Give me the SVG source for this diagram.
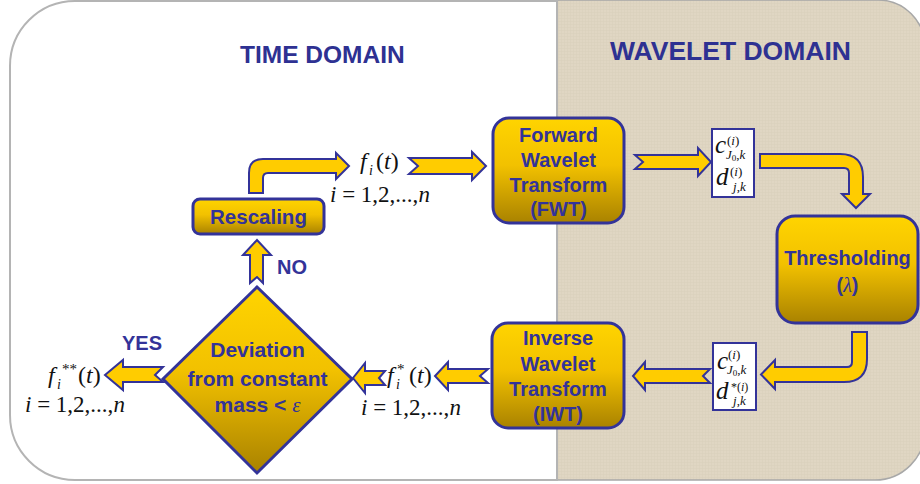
<svg xmlns="http://www.w3.org/2000/svg" width="920" height="484" viewBox="0 0 920 484">
<defs>
<linearGradient id="gold" x1="0" y1="0" x2="0" y2="1">
<stop offset="0" stop-color="#ffd400"/>
<stop offset="0.45" stop-color="#f2c100"/>
<stop offset="1" stop-color="#a98200"/>
</linearGradient>
<pattern id="linen" width="3" height="3" patternUnits="userSpaceOnUse">
<rect width="3" height="3" fill="#e0d6c3"/>
<path d="M0,0.5 H3 M0.5,0 V3" stroke="#cfc4ae" stroke-width="0.6" opacity="0.35"/>
</pattern>
<style>
.node{fill:url(#gold);stroke:#333399;stroke-width:3}
.arr{fill:#ffcc00;stroke:#333399;stroke-width:2;stroke-linejoin:miter}
.lbl{font-family:"Liberation Sans",Arial,sans-serif;font-weight:bold;fill:#333399;text-anchor:middle}
.ttl{font-family:"Liberation Sans",Arial,sans-serif;font-weight:bold;fill:#2e3192}
.m{font-family:"Liberation Serif","Times New Roman",serif;fill:#111}
.it{font-style:italic}
.box{fill:#ffffff;stroke:#333399;stroke-width:2}
</style>
</defs>
<g id="background">
<path d="M557,0 L878,0 A47,47 0 0 1 925,47 L925,430 A50,50 0 0 1 875,480 L557,480 Z" fill="url(#linen)" stroke="#a8a8a8" stroke-width="1.5"/>
<path d="M557,1 L75,1 A65,65 0 0 0 10,66 L10,415 A65,65 0 0 0 75,480 L557,480 Z" fill="#ffffff" stroke="#b4b4b4" stroke-width="2"/>
<text class="ttl" x="240" y="63" font-size="24.5">TIME DOMAIN</text>
<text class="ttl" x="610" y="60" font-size="26.5">WAVELET DOMAIN</text>
</g>
<g id="connectors">
<path class="arr" d="M249,193 L249,173 Q249,159 263,159 L336,159 L336,153 L349,166 L336,179 L336,173 L268,173 Q263,173 263,178 L263,193 Z"/>
<path class="arr" d="M409,158 L472,158 L472,152 L486,166 L472,180 L472,174 L409,174 L418,166 Z"/>
<path class="arr" d="M635,155 L698,155 L698,148 L711,162 L698,176 L698,169 L635,169 L643,162 Z"/>
<path class="arr" d="M760,154 L840,154 Q863,154 863,177 L863,194 L870,194 L856,208 L842,194 L849,194 L849,173 Q849,168 844,168 L760,168 Z"/>
<path class="arr" d="M852,332 L867,332 L867,359 Q867,382 844,382 L775,382 L775,389 L761,374.5 L775,360 L775,367 L847,367 Q852,367 852,362 Z"/>
<path class="arr" d="M710,369 L645,369 L645,362 L633,376 L645,390 L645,383 L710,383 L703,376 Z"/>
<path class="arr" d="M488,369 L448,369 L448,362 L435,376 L448,390 L448,383 L488,383 L480,376 Z"/>
<path class="arr" d="M385,371 L365,371 L365,363 L353,378 L365,393 L365,385 L385,385 L379,378 Z"/>
<path class="arr" d="M163,367 L123,367 L123,360 L105,375 L123,390 L123,382 L163,382 L155,375 Z"/>
<path class="arr" d="M250,283 L250,255 L243,255 L257,240 L271,255 L263,255 L263,283 L257,277 Z"/>
<text class="lbl" x="142" y="350" font-size="20">YES</text>
<text class="lbl" x="292" y="274" font-size="20">NO</text>
</g>
<g id="rescaling">
<rect class="node" x="193" y="199" width="131" height="35" rx="7"/>
<text class="lbl" x="258.5" y="224" font-size="20.5">Rescaling</text>
</g>
<g id="fwt">
<rect class="node" x="493" y="118" width="131" height="105" rx="16"/>
<text class="lbl" x="558.5" y="142" font-size="20">Forward</text>
<text class="lbl" x="558.5" y="167" font-size="20">Wavelet</text>
<text class="lbl" x="558.5" y="192" font-size="20">Transform</text>
<text class="lbl" x="558.5" y="216" font-size="20">(FWT)</text>
</g>
<g id="thresholding">
<rect class="node" x="777" y="216" width="141" height="107" rx="18"/>
<text class="lbl" x="847.5" y="265" font-size="20">Thresholding</text>
<text class="lbl" x="847.5" y="292" font-size="20">(<tspan font-family="Liberation Serif,serif" font-style="italic" font-weight="normal">λ</tspan>)</text>
</g>
<g id="iwt">
<rect class="node" x="492" y="323" width="132" height="105" rx="16"/>
<text class="lbl" x="558" y="345" font-size="20">Inverse</text>
<text class="lbl" x="558" y="371" font-size="20">Wavelet</text>
<text class="lbl" x="558" y="396" font-size="20">Transform</text>
<text class="lbl" x="558" y="421" font-size="20">(IWT)</text>
</g>
<g id="decision">
<polygon class="node" points="257,287 352,379 257,473 163,379"/>
<text class="lbl" x="257.5" y="357" font-size="21">Deviation</text>
<text class="lbl" x="257.5" y="386" font-size="21">from constant</text>
<text class="lbl" x="257.5" y="412" font-size="21">mass &lt; <tspan font-family="Liberation Serif,serif" font-style="italic" font-weight="normal">ε</tspan></text>
</g>
<g id="coef1">
<rect class="box" x="712" y="129" width="42" height="68"/>
<text class="m it" x="715" y="153" font-size="25">c</text>
<text class="m" x="727" y="145" font-size="13">(<tspan class="it">i</tspan>)</text>
<text class="m it" x="726" y="159" font-size="13">J<tspan font-size="9" dy="1.5" font-style="normal">0</tspan><tspan dy="-1.5" font-style="normal">,</tspan>k</text>
<text class="m it" x="716" y="185" font-size="25">d</text>
<text class="m" x="730" y="176" font-size="13">(<tspan class="it">i</tspan>)</text>
<text class="m it" x="733" y="191" font-size="13">j<tspan font-style="normal">,</tspan>k</text>
</g>
<g id="coef2">
<rect class="box" x="713" y="343" width="43" height="67"/>
<text class="m it" x="717" y="369" font-size="25">c</text>
<text class="m" x="728" y="359" font-size="13">(<tspan class="it">i</tspan>)</text>
<text class="m it" x="727" y="374" font-size="13">J<tspan font-size="9" dy="1.5" font-style="normal">0</tspan><tspan dy="-1.5" font-style="normal">,</tspan>k</text>
<text class="m it" x="716" y="399" font-size="25">d</text>
<text class="m" x="731" y="391" font-size="12">*(<tspan class="it">i</tspan>)</text>
<text class="m it" x="733" y="405" font-size="13">j<tspan font-style="normal">,</tspan>k</text>
</g>
<g id="signal-fi">
<text class="m it" x="360" y="169" font-size="24">f</text>
<text class="m it" x="369" y="175" font-size="14">i</text>
<text class="m" x="376" y="169" font-size="24">(<tspan class="it">t</tspan>)</text>
<text class="m" x="330" y="202" font-size="23"><tspan class="it">i</tspan> = 1,2,...,<tspan class="it">n</tspan></text>
</g>
<g id="signal-fstar">
<text class="m it" x="387" y="383" font-size="24">f</text>
<text class="m it" x="396" y="389" font-size="14">i</text>
<text class="m" x="397" y="374" font-size="15">*</text>
<text class="m" x="409" y="383" font-size="24">(<tspan class="it">t</tspan>)</text>
<text class="m" x="361" y="415" font-size="23"><tspan class="it">i</tspan> = 1,2,...,<tspan class="it">n</tspan></text>
</g>
<g id="signal-fstarstar">
<text class="m it" x="48" y="383" font-size="24">f</text>
<text class="m it" x="57" y="389" font-size="14">i</text>
<text class="m" x="62" y="374" font-size="15">**</text>
<text class="m" x="78" y="383" font-size="24">(<tspan class="it">t</tspan>)</text>
<text class="m" x="25" y="412" font-size="23"><tspan class="it">i</tspan> = 1,2,...,<tspan class="it">n</tspan></text>
</g>
</svg>
